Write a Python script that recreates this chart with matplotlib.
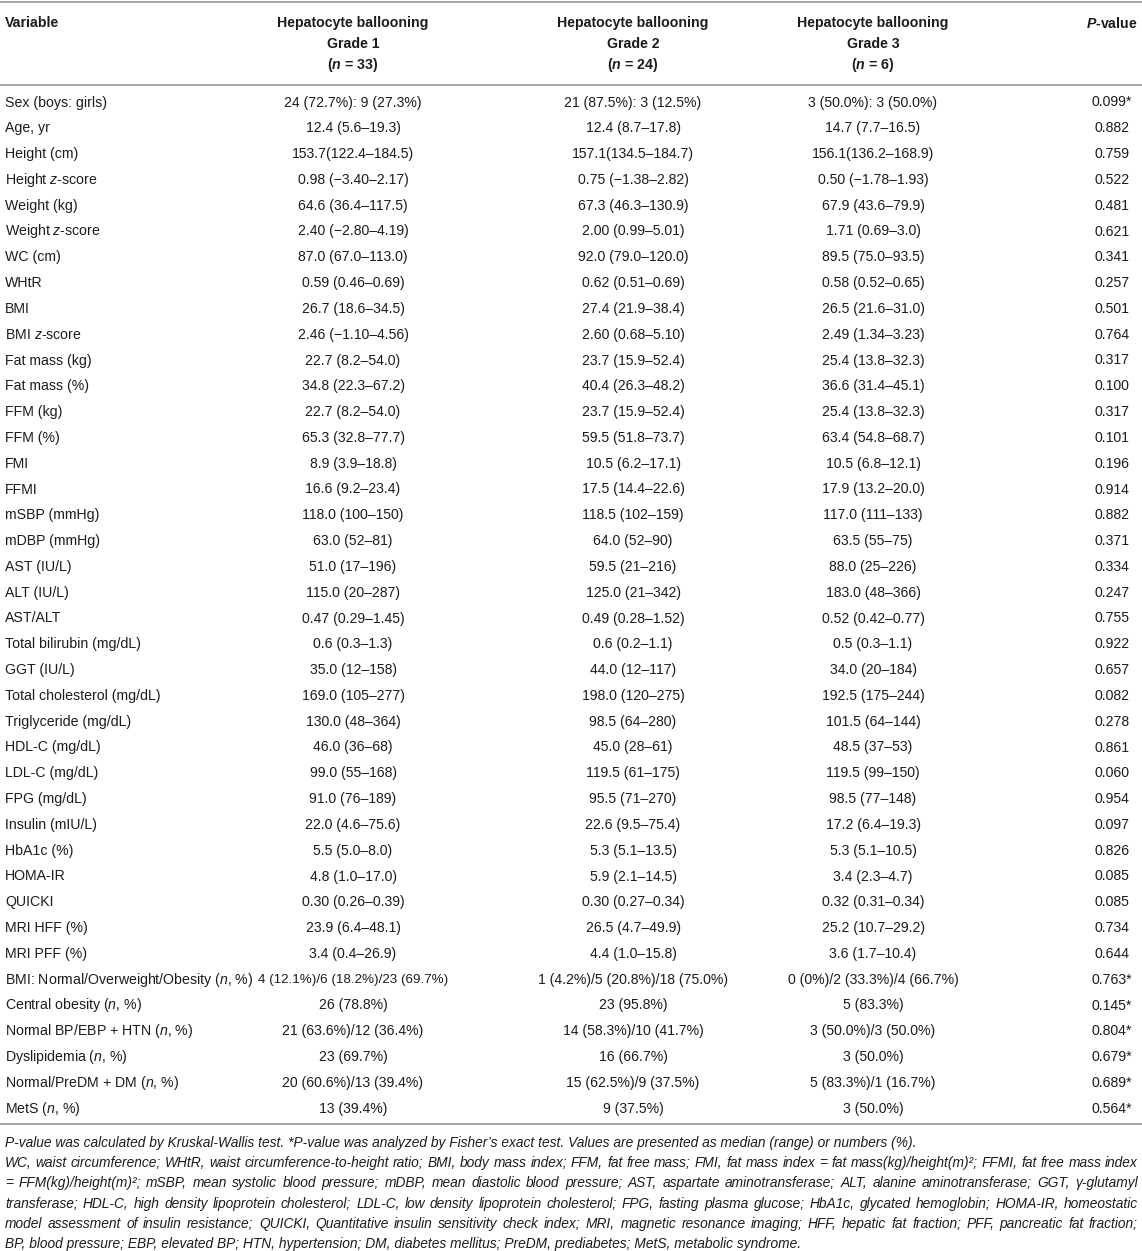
import matplotlib
matplotlib.use("Agg")
import matplotlib.pyplot as plt
from matplotlib import font_manager

# --- fonts ---
def have_font(name):
    try:
        font_manager.findfont(name, fallback_to_default=False)
        return True
    except Exception:
        return False

BODY_FONT = "Liberation Sans"
NOTE_FONT = "Liberation Sans Narrow" if have_font("Liberation Sans Narrow") else "Liberation Sans"

plt.rcParams["font.family"] = [BODY_FONT, "DejaVu Sans"]
plt.rcParams["mathtext.fontset"] = "custom"
plt.rcParams["mathtext.rm"] = BODY_FONT
plt.rcParams["mathtext.it"] = BODY_FONT + ":italic"
plt.rcParams["mathtext.bf"] = BODY_FONT + ":bold"
plt.rcParams["mathtext.bfit"] = BODY_FONT + ":bold:italic"

# --- data ---
headers = ["Variable",
           "Hepatocyte ballooning\nGrade 1\n($\\mathbfit{n}$ = 33)",
           "Hepatocyte ballooning\nGrade 2\n($\\mathbfit{n}$ = 24)",
           "Hepatocyte ballooning\nGrade 3\n($\\mathbfit{n}$ = 6)",
           "$\\mathbfit{P}$-value"]

variables = [
    "Sex (boys: girls)", "Age, yr", "Height (cm)", "Height $z$-score", "Weight (kg)",
    "Weight $z$-score", "WC (cm)", "WHtR", "BMI", "BMI $z$-score",
    "Fat mass (kg)", "Fat mass (%)", "FFM (kg)", "FFM (%)", "FMI",
    "FFMI", "mSBP (mmHg)", "mDBP (mmHg)", "AST (IU/L)", "ALT (IU/L)",
    "AST/ALT", "Total bilirubin (mg/dL)", "GGT (IU/L)", "Total cholesterol (mg/dL)",
    "Triglyceride (mg/dL)", "HDL-C (mg/dL)", "LDL-C (mg/dL)", "FPG (mg/dL)",
    "Insulin (mIU/L)", "HbA1c (%)", "HOMA-IR", "QUICKI", "MRI HFF (%)", "MRI PFF (%)",
    "BMI: Normal/Overweight/Obesity ($n$, %)", "Central obesity ($n$, %)",
    "Normal BP/EBP + HTN ($n$, %)", "Dyslipidemia ($n$, %)",
    "Normal/PreDM + DM ($n$, %)", "MetS ($n$, %)",
]

grade1 = [
    "24 (72.7%): 9 (27.3%)", "12.4 (5.6–19.3)", "153.7(122.4–184.5)", "0.98 (−3.40–2.17)",
    "64.6 (36.4–117.5)", "2.40 (−2.80–4.19)", "87.0 (67.0–113.0)", "0.59 (0.46–0.69)",
    "26.7 (18.6–34.5)", "2.46 (−1.10–4.56)", "22.7 (8.2–54.0)", "34.8 (22.3–67.2)",
    "22.7 (8.2–54.0)", "65.3 (32.8–77.7)", "8.9 (3.9–18.8)", "16.6 (9.2–23.4)",
    "118.0 (100–150)", "63.0 (52–81)", "51.0 (17–196)", "115.0 (20–287)",
    "0.47 (0.29–1.45)", "0.6 (0.3–1.3)", "35.0 (12–158)", "169.0 (105–277)",
    "130.0 (48–364)", "46.0 (36–68)", "99.0 (55–168)", "91.0 (76–189)",
    "22.0 (4.6–75.6)", "5.5 (5.0–8.0)", "4.8 (1.0–17.0)", "0.30 (0.26–0.39)",
    "23.9 (6.4–48.1)", "3.4 (0.4–26.9)", "4 (12.1%)/6 (18.2%)/23 (69.7%)", "26 (78.8%)",
    "21 (63.6%)/12 (36.4%)", "23 (69.7%)", "20 (60.6%)/13 (39.4%)", "13 (39.4%)",
]

grade2 = [
    "21 (87.5%): 3 (12.5%)", "12.4 (8.7–17.8)", "157.1(134.5–184.7)", "0.75 (−1.38–2.82)",
    "67.3 (46.3–130.9)", "2.00 (0.99–5.01)", "92.0 (79.0–120.0)", "0.62 (0.51–0.69)",
    "27.4 (21.9–38.4)", "2.60 (0.68–5.10)", "23.7 (15.9–52.4)", "40.4 (26.3–48.2)",
    "23.7 (15.9–52.4)", "59.5 (51.8–73.7)", "10.5 (6.2–17.1)", "17.5 (14.4–22.6)",
    "118.5 (102–159)", "64.0 (52–90)", "59.5 (21–216)", "125.0 (21–342)",
    "0.49 (0.28–1.52)", "0.6 (0.2–1.1)", "44.0 (12–117)", "198.0 (120–275)",
    "98.5 (64–280)", "45.0 (28–61)", "119.5 (61–175)", "95.5 (71–270)",
    "22.6 (9.5–75.4)", "5.3 (5.1–13.5)", "5.9 (2.1–14.5)", "0.30 (0.27–0.34)",
    "26.5 (4.7–49.9)", "4.4 (1.0–15.8)", "1 (4.2%)/5 (20.8%)/18 (75.0%)", "23 (95.8%)",
    "14 (58.3%)/10 (41.7%)", "16 (66.7%)", "15 (62.5%)/9 (37.5%)", "9 (37.5%)",
]

grade3 = [
    "3 (50.0%): 3 (50.0%)", "14.7 (7.7–16.5)", "156.1(136.2–168.9)", "0.50 (−1.78–1.93)",
    "67.9 (43.6–79.9)", "1.71 (0.69–3.0)", "89.5 (75.0–93.5)", "0.58 (0.52–0.65)",
    "26.5 (21.6–31.0)", "2.49 (1.34–3.23)", "25.4 (13.8–32.3)", "36.6 (31.4–45.1)",
    "25.4 (13.8–32.3)", "63.4 (54.8–68.7)", "10.5 (6.8–12.1)", "17.9 (13.2–20.0)",
    "117.0 (111–133)", "63.5 (55–75)", "88.0 (25–226)", "183.0 (48–366)",
    "0.52 (0.42–0.77)", "0.5 (0.3–1.1)", "34.0 (20–184)", "192.5 (175–244)",
    "101.5 (64–144)", "48.5 (37–53)", "119.5 (99–150)", "98.5 (77–148)",
    "17.2 (6.4–19.3)", "5.3 (5.1–10.5)", "3.4 (2.3–4.7)", "0.32 (0.31–0.34)",
    "25.2 (10.7–29.2)", "3.6 (1.7–10.4)", "0 (0%)/2 (33.3%)/4 (66.7%)", "5 (83.3%)",
    "3 (50.0%)/3 (50.0%)", "3 (50.0%)", "5 (83.3%)/1 (16.7%)", "3 (50.0%)",
]

pvalues = [
    "0.099*", "0.882", "0.759", "0.522", "0.481", "0.621", "0.341", "0.257", "0.501", "0.764",
    "0.317", "0.100", "0.317", "0.101", "0.196", "0.914", "0.882", "0.371", "0.334", "0.247",
    "0.755", "0.922", "0.657", "0.082", "0.278", "0.861", "0.060", "0.954", "0.097", "0.826",
    "0.085", "0.085", "0.734", "0.644", "0.763*", "0.145*", "0.804*", "0.679*", "0.689*", "0.564*",
]

footnotes = [
    "P-value was calculated by Kruskal-Wallis test. *P-value was analyzed by Fisher’s exact test. "
    "Values are presented as median (range) or numbers (%).",
    "WC, waist circumference; WHtR, waist circumference-to-height ratio; BMI, body mass index; FFM, fat free mass; "
    "FMI, fat mass index = fat mass(kg)/height(m)²; FFMI, fat free mass index",
    "= FFM(kg)/height(m)²; mSBP, mean systolic blood pressure; mDBP, mean diastolic blood pressure; "
    "AST, aspartate aminotransferase; ALT, alanine aminotransferase; GGT, γ-glutamyl",
    "transferase; HDL-C, high density lipoprotein cholesterol; LDL-C, low density lipoprotein cholesterol; "
    "FPG, fasting plasma glucose; HbA1c, glycated hemoglobin; HOMA-IR, homeostatic",
    "model assessment of insulin resistance; QUICKI, Quantitative insulin sensitivity check index; "
    "MRI, magnetic resonance imaging; HFF, hepatic fat fraction; PFF, pancreatic fat fraction;",
    "BP, blood pressure; EBP, elevated BP; HTN, hypertension; DM, diabetes mellitus; "
    "PreDM, prediabetes; MetS, metabolic syndrome.",
]
justified = [False, True, True, True, True, False]

# --- layout (pixel coordinates) ---
W, H = 1142, 1251
col_x = [5, 353, 633, 873, 1112]
col_maxw = [None, 190, 200, 200, None]
row_y0, row_dy = 102.5, 25.8
head_y = [23, 44, 65]
rules_y = [2, 85, 1124]
note_y0, note_dy = 1143, 20.2
note_left, note_right = 5, 1138
TXT = "#1c1c1c"
RULE = "#a0a0a0"
FS_HEAD = 10.2
FS_LABEL = 10.2
FS_VAL = 10.1

fig = plt.figure(figsize=(W / 100, H / 100), dpi=100)
ax = fig.add_axes([0, 0, 1, 1])
ax.set_xlim(0, W)
ax.set_ylim(H, 0)
ax.axis("off")
renderer = fig.canvas.get_renderer()

for y in rules_y:
    ax.plot([0, W], [y, y], color=RULE, lw=1.3, solid_capstyle="butt")

# header
ax.text(col_x[0], head_y[0], headers[0], fontsize=FS_HEAD, fontweight="bold",
        color=TXT, ha="left", va="center")
for j in range(1, 4):
    for k, line in enumerate(headers[j].split("\n")):
        ax.text(col_x[j], head_y[k], line, fontsize=FS_HEAD, fontweight="bold",
                color=TXT, ha="center", va="center")
ax.text(col_x[4], head_y[0], headers[4], fontsize=FS_HEAD, fontweight="bold",
        color=TXT, ha="center", va="center")

# body rows; long cells are shrunk to stay inside their column
columns = [grade1, grade2, grade3, pvalues]
for i, var in enumerate(variables):
    y = row_y0 + i * row_dy
    ax.text(col_x[0], y, var, fontsize=FS_LABEL, color=TXT, ha="left", va="center")
    for j, col in enumerate(columns, start=1):
        t = ax.text(col_x[j], y, col[i], fontsize=FS_VAL, color=TXT,
                    ha="center", va="center")
        if col_maxw[j]:
            w = t.get_window_extent(renderer).width
            if w > col_maxw[j]:
                t.set_fontsize(FS_VAL * col_maxw[j] / w)

# --- footnotes ---
note_family = [NOTE_FONT, "DejaVu Sans"]

def text_width(s, fs):
    t = ax.text(0, 0, s, fontsize=fs, style="italic", family=note_family)
    w = t.get_window_extent(renderer).width
    t.remove()
    return w

# size the type so the longest full line just fits, then justify the full lines
note_fs = 10 * (note_right - note_left - 4) / max(text_width(footnotes[k], 10)
                                                  for k in range(6) if justified[k])

for k, line in enumerate(footnotes):
    y = note_y0 + k * note_dy
    if not justified[k]:
        ax.text(note_left, y, line, fontsize=note_fs, style="italic",
                family=note_family, color=TXT, ha="left", va="center")
        continue
    words = line.split(" ")
    widths = [text_width(w_, note_fs) for w_ in words]
    gap = (note_right - note_left - sum(widths)) / (len(words) - 1)
    x = note_left
    for w_, wd in zip(words, widths):
        ax.text(x, y, w_, fontsize=note_fs, style="italic",
                family=note_family, color=TXT, ha="left", va="center")
        x += wd + gap

fig.savefig("out.png", dpi=100)
